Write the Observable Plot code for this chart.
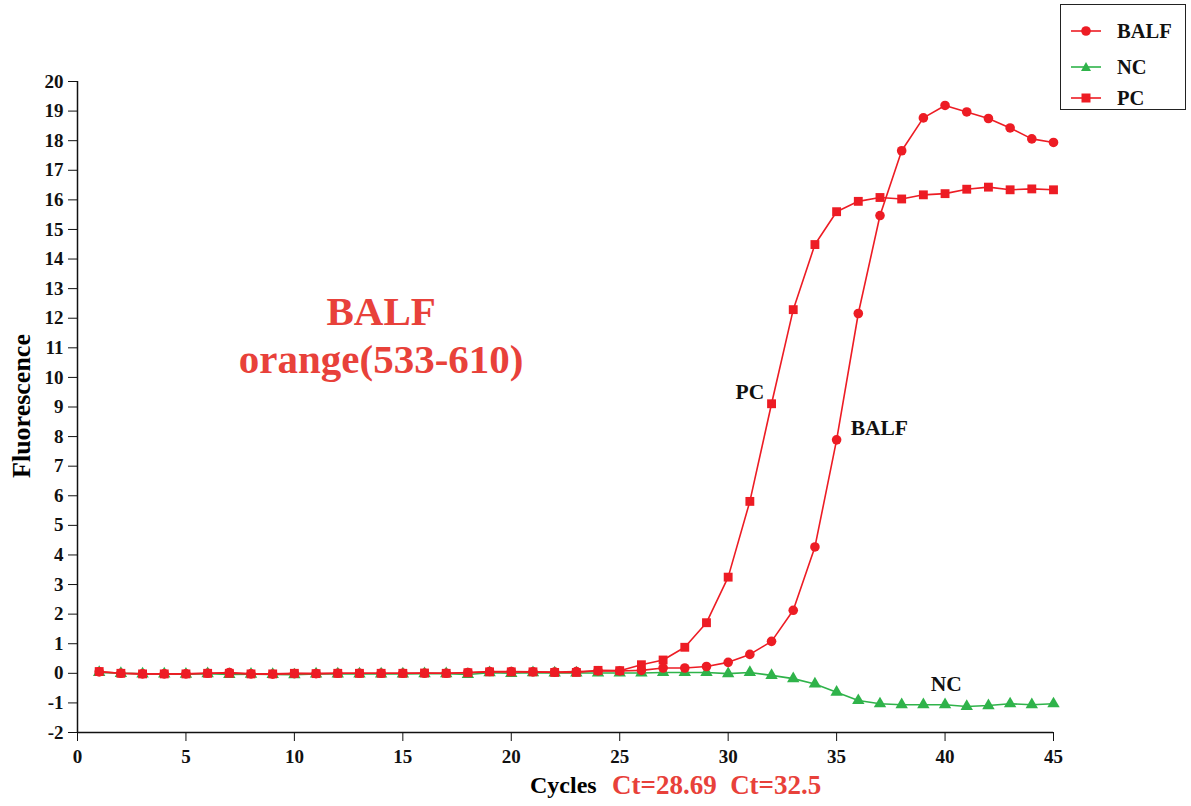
<!DOCTYPE html>
<html><head><meta charset="utf-8">
<script src="https://cdn.jsdelivr.net/npm/d3@7"></script>
<script src="https://cdn.jsdelivr.net/npm/@observablehq/plot@0.6"></script>
<style>
body{margin:0;background:#fff;}
#wrap{position:relative;width:1191px;height:806px;font-family:"Liberation Serif","Times New Roman",serif;font-weight:bold;}
#legend{position:absolute;left:1060px;top:4px;width:126px;height:106px;border:1.5px solid #222;box-sizing:border-box;background:#fff;}
.li{position:absolute;left:8px;height:20px;display:flex;align-items:center;font-size:20.5px;color:#111;}
.li svg{margin-right:14px;}
#xcap{position:absolute;top:772px;left:0;width:1191px;font-size:24px;white-space:pre;}
</style></head>
<body><div id="wrap"></div>
<script>
const cycles = d3.range(1, 46);
const balf = [0.05,0,-0.02,-0.02,-0.02,0,0.03,-0.02,-0.03,-0.01,-0.01,0,0,0,0,0,0,0.03,0.06,0.06,0.05,0.04,0.06,0.08,0.08,
  0.1,0.18,0.18,0.23,0.37,0.64,1.08,2.13,4.27,7.89,12.16,15.47,17.66,18.77,19.19,18.97,18.75,18.43,18.06,17.94];
const pc = [0.06,0,-0.02,-0.02,-0.02,0,0,-0.02,-0.02,0,-0.01,0,0,0,0,0.01,0,0.02,0.05,0.05,0.05,0.03,0.03,0.1,0.09,
  0.29,0.45,0.88,1.71,3.25,5.81,9.11,12.29,14.49,15.6,15.95,16.08,16.03,16.17,16.21,16.36,16.43,16.34,16.37,16.34];
const nc = [0.03,0,-0.02,-0.02,-0.03,-0.01,-0.04,-0.03,-0.04,-0.05,-0.02,-0.02,-0.02,-0.02,-0.02,-0.01,-0.01,-0.04,0.02,0,0.02,0.01,0.01,0.01,0.01,
  0.01,0.03,0.03,0.03,-0.01,0.03,-0.07,-0.18,-0.36,-0.64,-0.92,-1.03,-1.06,-1.06,-1.06,-1.12,-1.09,-1.03,-1.06,-1.03];
const xTicks = d3.range(0, 46, 5);
const yTicks = d3.range(-2, 21, 1);
const seriesNames = ["BALF","NC","PC"];
const seriesColors = {BALF:"#ed1c24", NC:"#2fb34a", PC:"#ed1c24"};
const seriesSymbols = {BALF:"circle", NC:"triangle", PC:"square"};
const curveLabels = [
  {x:31.0, y:9.5, text:"PC"},
  {x:36.97, y:8.3, text:"BALF"},
  {x:40.06, y:-0.37, text:"NC"}
];
const titleLines = [
  {x:14, y:12.2, text:"BALF"},
  {x:14, y:10.6, text:"orange(533-610)"}
];
const ctText = ["Ct=28.69", "Ct=32.5"];

const rows = [];
cycles.forEach((c,i)=>{
  rows.push({series:"NC", x:c, y:nc[i]});
  rows.push({series:"PC", x:c, y:pc[i]});
  rows.push({series:"BALF", x:c, y:balf[i]});
});
const order = ["NC","PC","BALF"];
const marks = [];
for (const s of order) {
  const d = rows.filter(r=>r.series===s);
  marks.push(Plot.line(d, {x:"x", y:"y", stroke:seriesColors[s], strokeWidth:1.6}));
  marks.push(Plot.dot(d, {x:"x", y:"y", symbol:()=>seriesSymbols[s], fill:seriesColors[s], stroke:"none", r: s==="NC"?4.6:(s==="PC"?5:4.8)}));
}
marks.push(Plot.text(curveLabels, {x:"x", y:"y", text:"text", fontSize:21.5, fontWeight:"bold", fill:"#111"}));
marks.push(Plot.text(titleLines, {x:"x", y:"y", text:"text", fontSize:41, fontWeight:"bold", fill:"#e8413a"}));
marks.push(Plot.axisX({ticks:xTicks, tickSize:9, tickPadding:8, fontSize:19, fontWeight:"bold", label:null, stroke:"#111"}));
marks.push(Plot.axisY({ticks:yTicks, tickSize:9, tickPadding:5, fontSize:19, fontWeight:"bold", label:null, tickFormat:d=>String(d).replace("−","-"), stroke:"#111"}));
marks.push(Plot.ruleX([0], {stroke:"#111", strokeWidth:1.5}));
marks.push(Plot.ruleY([-2], {stroke:"#111", strokeWidth:1.5}));

const chart = Plot.plot({
  width:1191, height:806,
  marginLeft:77, marginRight:138, marginTop:81, marginBottom:74,
  x:{domain:[0,45]},
  y:{domain:[-2,20]},
  style:{fontFamily:"'Liberation Serif','Times New Roman',serif", background:"#fff", color:"#111"},
  marks
});
const wrap = document.getElementById("wrap");
wrap.appendChild(chart);

// y-axis title
const yt = document.createElement("div");
yt.textContent = "Fluorescence";
yt.style.cssText = "position:absolute;left:22px;top:406px;transform:translate(-50%,-50%) rotate(-90deg);font-size:26px;white-space:nowrap;";
wrap.appendChild(yt);

// x caption
const xc = document.createElement("div");
xc.id = "xcap";
xc.innerHTML = `<span style="position:absolute;left:530px;">Cycles</span><span style="position:absolute;left:612px;color:#e8413a;font-size:27px;top:-2px;">${ctText.join("  ")}</span>`;
wrap.appendChild(xc);

// legend
const lg = document.createElement("div");
lg.id = "legend";
seriesNames.forEach((s,i)=>{
  const it = document.createElement("div");
  it.className = "li";
  it.style.top = [16,52,83][i] + "px";
  const sym = seriesSymbols[s]==="circle" ? `<circle cx="17" cy="10" r="4.8" fill="${seriesColors[s]}"/>`
    : seriesSymbols[s]==="square" ? `<rect x="12.5" y="5.5" width="9" height="9" fill="${seriesColors[s]}"/>`
    : `<path d="M17 5 L22 14 L12 14 Z" fill="${seriesColors[s]}"/>`;
  it.innerHTML = `<svg width="34" height="20"><line x1="2" x2="32" y1="10" y2="10" stroke="${seriesColors[s]}" stroke-width="1.6"/>${sym}</svg><span>${s}</span>`;
  lg.appendChild(it);
});
wrap.appendChild(lg);
</script>
</body></html>
